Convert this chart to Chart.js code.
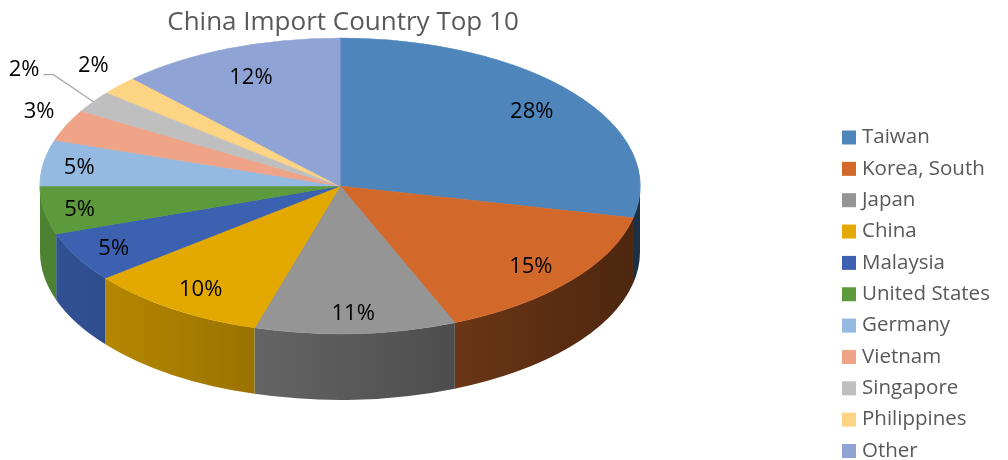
<!DOCTYPE html>
<html>
<head>
<meta charset="utf-8">
<script src="https://cdn.jsdelivr.net/npm/chart.js@4.4.1/dist/chart.umd.min.js"></script>
<style>
  html, body { margin: 0; padding: 0; background: #fff; }
</style>
</head>
<body>
<canvas id="importChart" width="1008" height="460"></canvas>
<script>
// data
const chartTitle = 'China Import Country Top 10';
const countries = ['Taiwan', 'Korea, South', 'Japan', 'China', 'Malaysia', 'United States',
                   'Germany', 'Vietnam', 'Singapore', 'Philippines', 'Other'];
const shares = [28.45, 15.3, 10.85, 9.7, 5.45, 5.25, 5.0, 3.45, 2.4, 2.05, 12.1];
const sliceColors = ['#4E86BC', '#D2692A', '#959595', '#E3A900', '#3B61B0', '#5C9A3C',
                     '#95BAE2', '#EFA488', '#BFBFBF', '#FDD384', '#8FA3D5'];

const DEPTH = 66;
// where each percentage sits, as a fraction of the radius (null = leader line)
const labelRadius = [0.82, 0.83, 0.85, 0.83, 0.86, 0.88, 0.88, 1.1, null, 1.12, 0.8];

function shade(hex, f) {
    const n = parseInt(hex.slice(1), 16);
    const r = Math.round(((n >> 16) & 255) * f);
    const g = Math.round(((n >> 8) & 255) * f);
    const b = Math.round((n & 255) * f);
    return 'rgb(' + r + ',' + g + ',' + b + ')';
}

function geom(chart) {
    const a = chart.chartArea;
    return {
        cx: (a.left + a.right) / 2, cy: (a.top + a.bottom) / 2,
        rx: (a.right - a.left) / 2, ry: (a.bottom - a.top) / 2,
        left: a.left, right: a.right
    };
}

const pie3d = {
    id: 'pie3d',
    beforeDatasetsDraw(chart) {
        const ctx = chart.ctx;
        const g = geom(chart);
        const arcs = chart.getDatasetMeta(0).data;
        // front wall of the cylinder
        arcs.forEach((arc, i) => {
            const s = Math.max(arc.startAngle, 0);
            const e = Math.min(arc.endAngle, Math.PI);
            if (e <= s) return;
            const grad = ctx.createLinearGradient(g.left, 0, g.right, 0);
            grad.addColorStop(0, shade(sliceColors[i], 0.85));
            grad.addColorStop(1, shade(sliceColors[i], 0.36));
            ctx.beginPath();
            ctx.ellipse(g.cx, g.cy, g.rx, g.ry, 0, s, e);
            ctx.ellipse(g.cx, g.cy + DEPTH, g.rx, g.ry, 0, e, s, true);
            ctx.closePath();
            ctx.fillStyle = grad;
            ctx.fill();
        });
        // squash the top face into an ellipse
        const R = arcs[0].outerRadius;
        ctx.save();
        ctx.translate(g.cx, g.cy);
        ctx.scale(g.rx / R, g.ry / R);
        ctx.translate(-arcs[0].x, -arcs[0].y);
    },
    afterDatasetsDraw(chart) {
        const ctx = chart.ctx;
        ctx.restore();
        const g = geom(chart);
        const arcs = chart.getDatasetMeta(0).data;
        const total = shares.reduce((p, v) => p + v, 0);

        ctx.save();
        ctx.font = '22px "Open Sans"';
        ctx.fillStyle = '#000';
        ctx.textBaseline = 'middle';
        arcs.forEach((arc, i) => {
            const mid = (arc.startAngle + arc.endAngle) / 2;
            const txt = Math.round(shares[i] / total * 100) + '%';
            const r = labelRadius[i];
            if (r === null) {
                const ax = g.cx + g.rx * Math.cos(mid);
                const ay = g.cy + g.ry * Math.sin(mid);
                const ex = ax - 40, ey = ay - 27;
                ctx.strokeStyle = '#A6A6A6';
                ctx.lineWidth = 1.2;
                ctx.beginPath();
                ctx.moveTo(ax, ay);
                ctx.lineTo(ex, ey);
                ctx.lineTo(ex - 10, ey);
                ctx.stroke();
                ctx.textAlign = 'right';
                ctx.fillText(txt, ex - 14, ey - 5);
                return;
            }
            ctx.textAlign = 'center';
            const x = g.cx + g.rx * r * Math.cos(mid);
            const y = g.cy + g.ry * r * Math.sin(mid) + (r > 1 ? -8 : 2);
            ctx.fillText(txt, x, y);
        });

        // title
        ctx.textAlign = 'center';
        ctx.fillStyle = '#595959';
        ctx.font = '26px "Open Sans"';
        ctx.fillText(chartTitle, g.cx + 3, 23);

        // legend
        ctx.textAlign = 'left';
        ctx.font = '20.5px "Open Sans"';
        countries.forEach((name, i) => {
            const y = 137.5 + i * 31.35;
            ctx.fillStyle = sliceColors[i];
            ctx.fillRect(842, y - 7, 14, 14);
            ctx.fillStyle = '#595959';
            ctx.fillText(name, 862, y);
        });
        ctx.restore();
    }
};

new Chart(document.getElementById('importChart'), {
    type: 'pie',
    data: {
        labels: countries,
        datasets: [{
            data: shares,
            backgroundColor: sliceColors,
            borderColor: sliceColors,
            borderWidth: 0.5
        }]
    },
    options: {
        responsive: false,
        animation: false,
        layout: { padding: { left: 40, right: 368, top: 38, bottom: 126 } },
        plugins: {
            legend: { display: false },
            tooltip: { enabled: false },
            title: { display: false }
        }
    },
    plugins: [pie3d]
});
</script>
</body>
</html>
